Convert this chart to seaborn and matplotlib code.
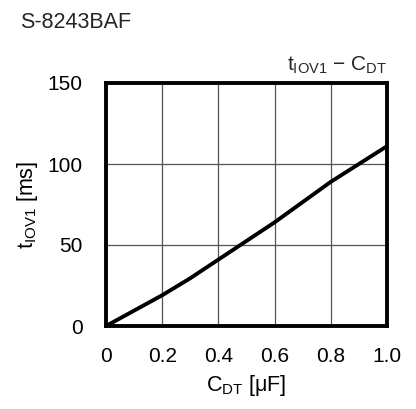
import matplotlib
matplotlib.use("Agg")
import matplotlib.pyplot as plt
import seaborn as sns
import pandas as pd

# C_DT [uF] vs t_IOV1 [ms]
cdt = [0.0, 0.1, 0.2, 0.3, 0.4, 0.5, 0.6, 0.7, 0.8, 0.9, 1.0]
tiov1 = [0.0, 9.5, 19.0, 29.5, 41.0, 52.5, 64.0, 76.5, 89.0, 100.0, 111.0]
xticks = [0, 0.2, 0.4, 0.6, 0.8, 1.0]
xticklabels = ["0", "0.2", "0.4", "0.6", "0.8", "1.0"]
yticks = [0, 50, 100, 150]

sns.set_theme(style="white")
plt.rcParams['font.family'] = ['Liberation Sans', 'DejaVu Sans']
plt.rcParams['mathtext.fontset'] = 'custom'
plt.rcParams['mathtext.rm'] = 'Liberation Sans'
plt.rcParams['mathtext.it'] = 'Liberation Sans'

df = pd.DataFrame({"C": cdt, "t": tiov1})

fig = plt.figure(figsize=(4.16, 4.09), dpi=100)
ax = fig.add_axes([106 / 416, 1 - 326 / 409, 281 / 416, 243 / 409])

sns.lineplot(data=df, x="C", y="t", ax=ax, color="black", linewidth=2.8)

ax.set_xlim(0, 1.0)
ax.set_ylim(0, 150)
ax.set_xticks(xticks)
ax.set_xticklabels(xticklabels)
ax.set_yticks(yticks)
ax.grid(True, color="#555555", linewidth=0.9)
for s in ax.spines.values():
    s.set_visible(True)
    s.set_color("black")
    s.set_linewidth(2.8)
ax.tick_params(axis="both", length=0, labelsize=15, colors="black")
ax.tick_params(axis="x", pad=15)
ax.tick_params(axis="y", pad=17)

ax.set_xlabel(r"$\mathregular{C_{DT}}$ [μF]", fontsize=15.5, color="black", labelpad=5)
ax.set_ylabel(r"$\mathregular{t_{IOV1}}$ [ms]", fontsize=15.5, color="black", labelpad=5)

fig.text(20 / 416, 1 - 22 / 409, "S-8243BAF", fontsize=15.5, va="center", ha="left")
ax.text(1.0, 1.03, r"$\mathregular{t_{IOV1}}$ $-$ $\mathregular{C_{DT}}$", transform=ax.transAxes,
        fontsize=15, ha="right", va="bottom")

fig.savefig("out.png", dpi=100)
